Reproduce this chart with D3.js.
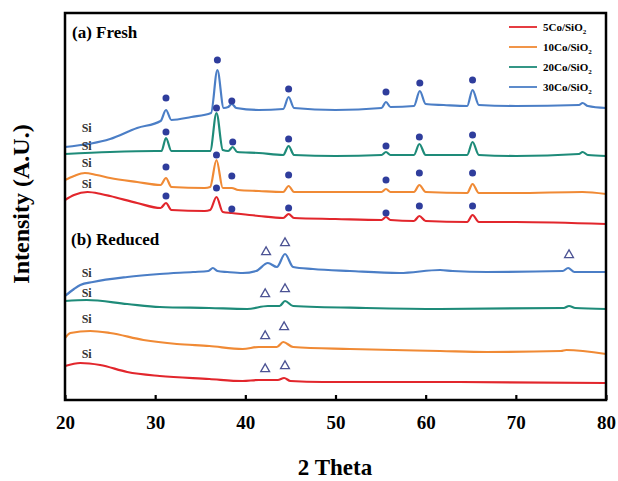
<!DOCTYPE html>
<html>
<head>
<meta charset="utf-8">
<script src="https://cdn.jsdelivr.net/npm/d3@7"></script>
<style>
  body { margin: 0; background: #fff; }
  text { font-family: "Liberation Serif", "Times New Roman", serif; font-weight: bold; }
</style>
</head>
<body>
<script>
// series names and colours
var names = ["5Co/SiO", "10Co/SiO", "20Co/SiO", "30Co/SiO"];
var colors = ["#e2262c", "#f08a35", "#1e8b79", "#4b7ec6"];

// fresh patterns, [2theta, intensity]
var fresh5 = [[20,200],[21,205],[22.5,208],[24,206],[25,204],[28,197],[30.6,192],[31.2,197],[31.8,190],[35.5,189],[36.1,190],[36.8,203],[37.5,188],[38.5,187],[41.5,184],[44.2,182],[44.8,186],[45.4,182],[50,181],[55.1,180],[55.6,183],[56.1,180],[58.7,179],[59.3,184],[60,179],[64.6,178],[65.2,185],[65.9,178],[70,178],[80,176]];
var fresh10 = [[20,220],[21,224],[22.2,227],[23.5,225],[25,222],[28,218],[30.6,215],[31.2,222],[31.8,213],[35.5,212],[36.1,213],[36.8,240],[37.5,212],[38.5,212],[39.2,210],[41.5,209],[44.2,208],[44.8,214],[45.4,208],[50,208],[55.1,208],[55.6,211],[56.1,208],[58.7,208],[59.3,215],[60,208],[64.6,207],[65.2,216],[65.9,207],[70,207],[77.4,208],[80,206]];
var fresh20 = [[20,246],[25,248],[30,249],[30.7,249],[31.2,262],[31.8,249],[36.1,249],[36.8,287],[37.5,250],[38.1,249],[38.6,253],[39.1,248],[41.5,247],[44.2,245],[44.8,254],[45.4,245],[50,244],[55.1,245],[55.6,248],[56.1,245],[58.7,245],[59.3,256],[60,245],[64.6,245],[65.2,258],[65.9,245],[70,244],[77,246],[77.4,248],[78,245],[80,244]];
var fresh30 = [[20,253],[25,261],[28,272],[30.6,279],[31.2,290],[31.8,280],[34,283],[36.2,287],[36.9,330],[37.6,292],[38.1,293],[38.5,296],[39,292],[41.5,290],[44.2,291],[44.8,303],[45.4,292],[50,290],[55.1,292],[55.6,298],[56.1,293],[58.7,294],[59.35,309],[60,296],[62,295],[64.6,294],[65.2,310],[65.9,295],[70,294],[77,295],[77.4,297],[78,294],[80,292]];

// reduced patterns
var red5 = [[20,34],[21.7,37],[23.9,35],[26.9,28],[30.5,24],[36,21],[39.7,19],[41.5,20],[43.6,20],[44.3,22],[45,19],[48.6,18],[61.6,18],[80,17]];
var red10 = [[20,62],[20.6,67],[22.8,69],[25,67],[28.7,60],[32.4,56],[36,54],[39.7,51],[41.5,53],[43.5,53],[44.2,58],[45.3,53],[51.6,51],[61.6,49],[66.8,48],[75,49],[75.6,50],[80,46]];
var red20 = [[20,99],[22.4,100],[26.9,96],[30.5,93],[36,92],[40.2,91],[42.5,94],[43.8,94],[44.4,99],[45.3,94],[53.4,92],[61.6,91],[75.3,92],[75.9,94],[76.6,92],[80,91]];
var red30 = [[20,104],[21,111],[21.7,115],[23.1,118],[26.9,123],[30.5,126],[34.2,128],[35.9,129],[36.4,132],[36.9,129],[38,128],[39.7,127],[41.2,129],[42.5,137],[43.5,133],[44.4,146],[45.3,133],[47.5,131],[51.6,129],[57.1,127],[61.6,130],[63,129],[66.8,128],[75.2,129],[75.8,132],[76.5,128],[80,128]];

// Co3O4 peak marks (fresh) and Co marks (reduced)
var dots = [[31.2,302],[36.9,340],[38.5,299],[44.8,311],[55.6,308],[59.35,317],[65.2,320],
            [31.2,268],[36.8,292],[38.6,258],[44.8,261],[55.6,254],[59.3,263],[65.2,265],
            [31.2,233],[36.8,245],[38.5,224],[44.8,225],[55.6,220],[59.3,227],[65.2,227],
            [31.2,204],[36.8,212],[38.5,191],[44.8,192],[55.6,187],[59.3,194],[65.2,194]];
var triangles = [[42.3,148],[44.4,157],[75.9,145],[42.2,106],[44.4,111],[42.2,64],[44.3,73],[42.2,31],[44.4,34]];
var siLabels = [[22.4,272],[22.4,254],[22.4,237],[22.4,216],[22.4,127],[22.4,107],[22.4,81],[22.4,46]];

var xTicks = [20, 30, 40, 50, 60, 70, 80];

var width = 618, height = 481;
var svg = d3.select("body").append("svg")
  .attr("width", width)
  .attr("height", height);

var x = d3.scaleLinear().domain([20, 80]).range([65, 606]);
var y = d3.scaleLinear().domain([0, 387]).range([400, 13]);

var line = d3.line()
  .x(function(d) { return x(d[0]); })
  .y(function(d) { return y(d[1]); })
  .curve(d3.curveMonotoneX);

var series = [fresh5, fresh10, fresh20, fresh30, red5, red10, red20, red30];
svg.selectAll(".trace")
  .data(series)
  .enter()
  .append("path")
  .attr("class", "trace")
  .attr("fill", "none")
  .attr("stroke", function(d, i) { return colors[i % 4]; })
  .attr("stroke-width", 2.2)
  .attr("d", line);

svg.selectAll(".dot")
  .data(dots)
  .enter()
  .append("circle")
  .attr("cx", function(d) { return x(d[0]); })
  .attr("cy", function(d) { return y(d[1]); })
  .attr("r", 3.5)
  .attr("fill", "#2f3d9c");

var tri = d3.symbol().type(d3.symbolTriangle).size(34);
svg.selectAll(".tri")
  .data(triangles)
  .enter()
  .append("path")
  .attr("transform", function(d) { return "translate(" + x(d[0]) + "," + y(d[1]) + ")"; })
  .attr("d", tri)
  .attr("fill", "none")
  .attr("stroke", "#4c5394")
  .attr("stroke-width", 1.3);

svg.selectAll(".si")
  .data(siLabels)
  .enter()
  .append("text")
  .attr("x", function(d) { return x(d[0]); })
  .attr("y", function(d) { return y(d[1]); })
  .attr("dy", "0.35em")
  .attr("text-anchor", "middle")
  .style("font-size", "12px")
  .attr("fill", "#333")
  .text("Si");

// bottom axis, ticks inside
var axis = svg.append("g")
  .attr("transform", "translate(0,400)")
  .call(d3.axisBottom(x).tickValues(xTicks).tickSizeInner(-5).tickSizeOuter(0).tickPadding(16));
axis.select(".domain").remove();
axis.selectAll("line").attr("stroke", "#000").attr("stroke-width", 2.2);
axis.selectAll("text")
  .attr("fill", "#000")
  .style("font-family", "'Liberation Serif', serif")
  .style("font-weight", "bold")
  .style("font-size", "19px");

// frame
svg.append("rect")
  .attr("x", 65).attr("y", 13)
  .attr("width", 541).attr("height", 387)
  .attr("fill", "none")
  .attr("stroke", "#000")
  .attr("stroke-width", 2.5);

svg.append("text")
  .attr("x", 72).attr("y", 38)
  .style("font-size", "17px")
  .text("(a) Fresh");
svg.append("text")
  .attr("x", 71).attr("y", 245)
  .style("font-size", "17px")
  .text("(b) Reduced");

// legend
var legend = svg.selectAll(".leg")
  .data(names)
  .enter()
  .append("g")
  .attr("transform", function(d, i) { return "translate(509," + (27 + i * 20) + ")"; });
legend.append("line")
  .attr("x1", 0).attr("x2", 28)
  .attr("stroke", function(d, i) { return colors[i]; })
  .attr("stroke-width", 1.8);
var lt = legend.append("text")
  .attr("x", 34)
  .attr("dy", "0.35em")
  .style("font-size", "11px")
  .text(function(d) { return d; });
lt.append("tspan")
  .attr("dy", "3")
  .style("font-size", "7px")
  .text("2");

svg.append("text")
  .attr("x", 335).attr("y", 475)
  .attr("text-anchor", "middle")
  .style("font-size", "23px")
  .text("2 Theta");
svg.append("text")
  .attr("transform", "translate(29,204) rotate(-90)")
  .attr("text-anchor", "middle")
  .style("font-size", "24px")
  .text("Intensity (A.U.)");
</script>
</body>
</html>
